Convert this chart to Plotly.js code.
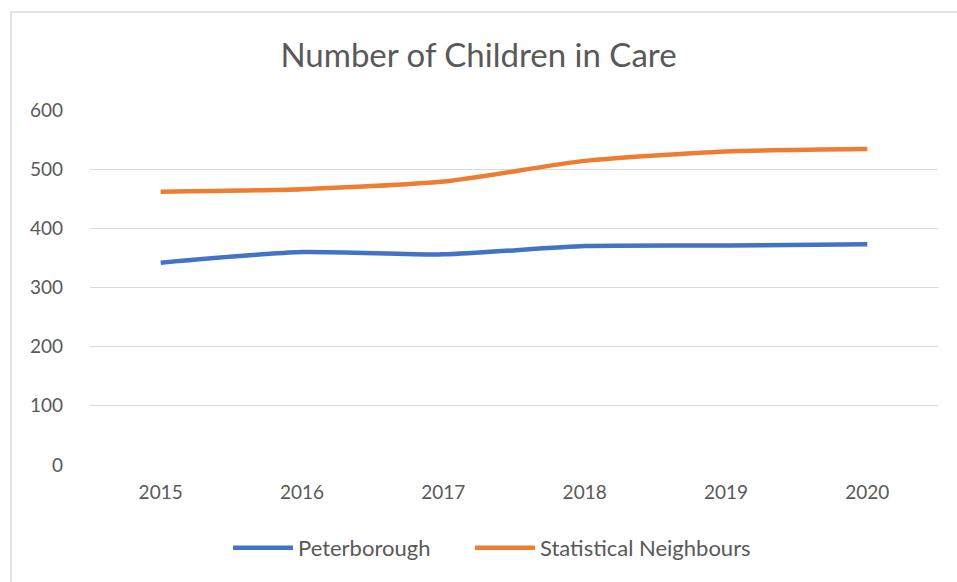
<!DOCTYPE html>
<html>
<head>
<meta charset="utf-8">
<script src="https://cdn.plot.ly/plotly-3.0.1.min.js"></script>
<style>html,body{margin:0;padding:0;background:#fff;}#chart{width:957px;height:582px;}</style>
</head>
<body>
<div id="chart"></div>
<script>
const years = ["2015", "2016", "2017", "2018", "2019", "2020"];
const peterborough = [342, 360, 356, 370, 371, 373];
const statNeighbours = [462, 466, 479, 514, 530, 534];
const yTicks = [0, 100, 200, 300, 400, 500, 600];

const font = "Lato, 'Open Sans', sans-serif";
const traces = [
  {x: years, y: peterborough, name: "Peterborough", type: "scatter", mode: "lines", legend: "legend",
   line: {color: "#4472C4", width: 4.5, shape: "spline", smoothing: 0.6}},
  {x: years, y: statNeighbours, name: "Statistical Neighbours", type: "scatter", mode: "lines", legend: "legend2",
   line: {color: "#ED7D31", width: 4.5, shape: "spline", smoothing: 0.6}}
];
const legendStyle = {orientation: "h", xanchor: "left", y: -0.234, yanchor: "middle",
  font: {family: font, size: 22, color: "#595959"}, itemwidth: 60, bgcolor: "rgba(0,0,0,0)"};
const layout = {
  width: 957, height: 582,
  margin: {l: 90, r: 19, t: 110, b: 117},
  paper_bgcolor: "#ffffff", plot_bgcolor: "#ffffff",
  title: {text: "Number of Children in Care", x: 0.5, xanchor: "center", y: 0.905, yanchor: "middle",
          font: {family: font, size: 33, color: "#595959"}},
  xaxis: {type: "category", range: [-0.5, 5.5], showgrid: false, zeroline: false, showline: false,
          ticks: "", tickfont: {family: font, size: 19, color: "#595959"}, ticklabelstandoff: 14},
  yaxis: {range: [0, 600], tickvals: yTicks, showgrid: true, gridcolor: "#d9d9d9", gridwidth: 1.3,
          zeroline: false, showline: false, ticks: "", ticklabelstandoff: 26,
          tickfont: {family: font, size: 19, color: "#595959"}},
  showlegend: true,
  legend: Object.assign({}, legendStyle, {x: (228 - 90) / 848}),
  legend2: Object.assign({}, legendStyle, {x: (470 - 90) / 848}),
  shapes: [{type: "rect", xref: "paper", yref: "paper",
            x0: (11 - 90) / 848, x1: (1000 - 90) / 848, y0: (465 - 600) / 355, y1: (465 - 12) / 355,
            line: {color: "#d9d9d9", width: 1.5}, fillcolor: "rgba(0,0,0,0)", layer: "below"}]
};
Plotly.newPlot("chart", traces, layout, {displayModeBar: false, staticPlot: true});
</script>
</body>
</html>
